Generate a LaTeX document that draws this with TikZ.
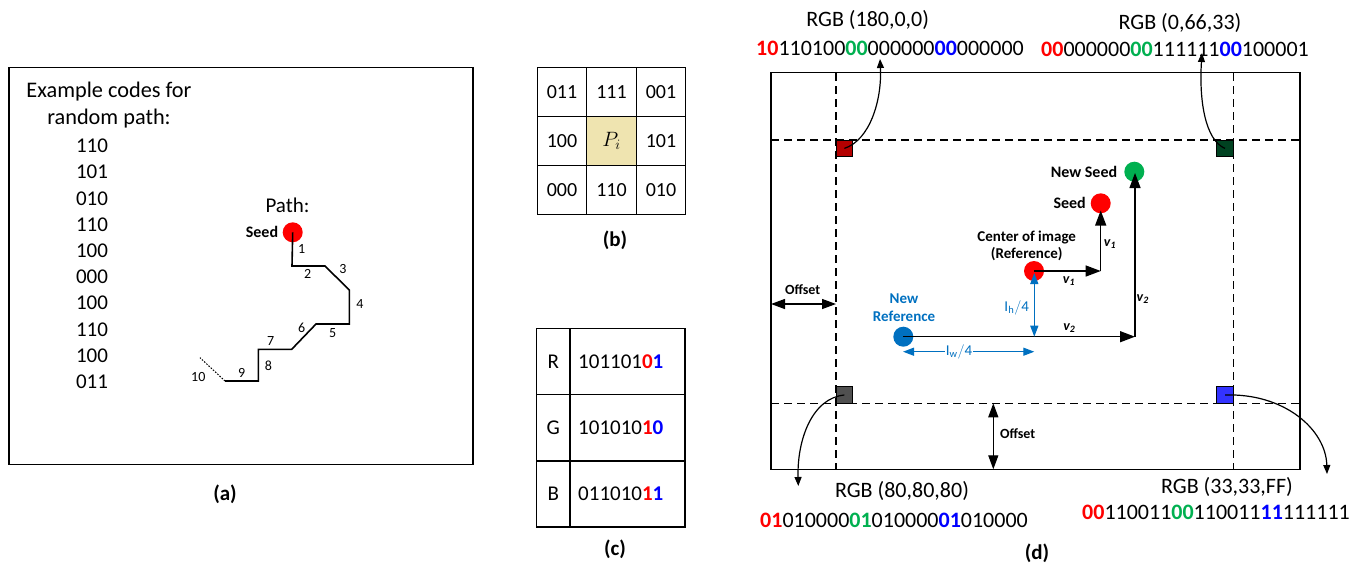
\documentclass[tikz,border=0pt]{standalone}
\usepackage{fontspec}
\setmainfont{Carlito}
\usetikzlibrary{arrows.meta}
\definecolor{cred}{HTML}{FF0000}
\definecolor{cgreen}{HTML}{00B050}
\definecolor{cblue}{HTML}{0000FF}
\definecolor{cref}{HTML}{0070C0}
\definecolor{tan}{HTML}{EFE4B0}
\definecolor{sqred}{HTML}{B40000}
\definecolor{sqgreen}{HTML}{004221}
\definecolor{sqgray}{HTML}{505050}
\definecolor{sqblue}{HTML}{3333FF}
\newcommand{\rb}[1]{\textcolor{cred}{\bfseries #1}}
\newcommand{\gb}[1]{\textcolor{cgreen}{\bfseries #1}}
\newcommand{\bb}[1]{\textcolor{cblue}{\bfseries #1}}
\begin{document}
\begin{tikzpicture}[x=1pt,y=-1pt,
  txt/.style={inner sep=0pt,font=\fontsize{21}{25}\selectfont},
  bigtxt/.style={inner sep=0pt,font=\fontsize{22}{26}\selectfont},
  numtxt/.style={inner sep=0pt,font=\fontsize{14}{16}\selectfont},
  boldlbl/.style={inner sep=0pt,font=\fontsize{15}{17.7}\selectfont\bfseries,align=center},
  seedlbl/.style={inner sep=0pt,font=\fontsize{16}{18}\selectfont\bfseries},
  caplbl/.style={inner sep=0pt,font=\fontsize{21}{25}\selectfont\bfseries},
  vlab/.style={inner sep=0pt,font=\fontsize{14}{16}\selectfont\bfseries\itshape},
  dot/.style={circle,inner sep=0pt,minimum size=20pt},
  cell/.style={draw,line width=1.4pt,minimum width=49.5pt,minimum height=49pt,inner sep=0pt,font=\fontsize{20}{24}\selectfont},
  sq/.style={draw,line width=0.9pt,minimum size=16.7pt,inner sep=0pt},
  dashline/.style={line width=1.3pt,dash pattern=on 8pt off 5pt},
  pathline/.style={line width=1.6pt},
  bigarrow/.style={line width=1.3pt,-{Triangle[length=15pt,width=11pt]}},
  dblarrow/.style={line width=1.3pt,{Triangle[length=14pt,width=10pt]}-{Triangle[length=14pt,width=10pt]}},
  bluearrow/.style={line width=1.3pt,cref,{Triangle[length=11pt,width=8pt]}-{Triangle[length=11pt,width=8pt]}},
  curvearrow/.style={line width=1.2pt,-{Triangle[length=9pt,width=7pt]}}
]
\useasboundingbox (0,0) rectangle (1365,566);

% ---------------- panel (a)
\node[draw,line width=1.6pt,minimum width=464pt,minimum height=397pt,inner sep=0pt] (boxa) at (241,266) {};
\node[inner sep=0pt,font=\fontsize{22.3}{27}\selectfont,align=center] (title) at (109,105.5) {Example codes for\\random path:};
\foreach \c [count=\i] in {110,101,010,110,100,000,100,110,100,011}
  \node[txt] (code\i) at (92,{146+(\i-1)*26.2}) {\c};
\node[txt] (pathlbl) at (287.5,205) {Path:};
\node[dot,fill=cred] (seedA) at (292.7,232.3) {};
\node[seedlbl] (seedAl) at (262,232) {Seed};
\coordinate (p1) at (292,266);
\coordinate (p2) at (325,266);
\coordinate (p3) at (349.3,290);
\coordinate (p4) at (349.3,324);
\coordinate (p5) at (316,324);
\coordinate (p6) at (291.7,349.3);
\coordinate (p7) at (258.3,349.3);
\coordinate (p8) at (258.3,381);
\coordinate (p9) at (225,381);
\coordinate (p10) at (200,357.7);
\draw[pathline] (seedA.center) -- (p1) -- (p2) -- (p3) -- (p4) -- (p5) -- (p6) -- (p7) -- (p8) -- (p9);
\draw[line width=1pt,dash pattern=on 1.5pt off 1.5pt] (p9) -- (p10);
\node[numtxt] (n1) at (301.7,249) {1};
\node[numtxt] (n2) at (307.7,274) {2};
\node[numtxt] (n3) at (343,269) {3};
\node[numtxt] (n4) at (360,304) {4};
\node[numtxt] (n5) at (332.7,332.7) {5};
\node[numtxt] (n6) at (301.7,328) {6};
\node[numtxt] (n7) at (270.7,340.7) {7};
\node[numtxt] (n8) at (268.3,365.7) {8};
\node[numtxt] (n9) at (241.7,373) {9};
\node[numtxt] (n10) at (198.3,376.7) {10};
\node[caplbl] (capa) at (225,494) {(a)};

% ---------------- panel (b)
\node[cell] (b11) at (562,92) {011};
\node[cell] (b12) at (611.5,92) {111};
\node[cell] (b13) at (661,92) {001};
\node[cell] (b21) at (562,141) {100};
\node[cell,fill=tan] (b22) at (611.5,141) {$P_i$};
\node[cell] (b23) at (661,141) {101};
\node[cell] (b31) at (562,190) {000};
\node[cell] (b32) at (611.5,190) {110};
\node[cell] (b33) at (661,190) {010};
\node[caplbl] (capb) at (615,240) {(b)};

% ---------------- panel (c)
\foreach \l/\v [count=\i] in {R/101101\rb{0}\bb{1},G/101010\rb{1}\bb{0},B/011010\rb{1}\bb{1}}{
  \node[draw,line width=1.4pt,minimum width=33.3pt,minimum height=66.3pt,inner sep=0pt] (cl\i) at (553.3,{361.4+(\i-1)*66.3}) {};
  \node[draw,line width=1.4pt,minimum width=115pt,minimum height=66.3pt,inner sep=0pt] (cr\i) at (627.5,{361.4+(\i-1)*66.3}) {};
  \node[txt] (cll\i) at (cl\i.center) {\l};
  \node[txt,anchor=west] (crl\i) at (578,{361.4+(\i-1)*66.3}) {\v};
}
\node[caplbl] (capc) at (615,549) {(c)};

% ---------------- panel (d)
\node[draw,line width=1.4pt,minimum width=529pt,minimum height=396.6pt,inner sep=0pt] (boxd) at (1035.5,271) {};
\draw[dashline] (771,140) -- (1300,140);
\draw[dashline] (771,403.3) -- (1300,403.3);
\draw[dashline] (836,73) -- (836,469.3);
\draw[dashline] (1233.3,73) -- (1233.3,469.3);
\node[sq,fill=sqred] (sqR) at (844.4,148.4) {};
\node[sq,fill=sqgreen] (sqG) at (1225,148.4) {};
\node[sq,fill=sqgray] (sqK) at (844.4,395) {};
\node[sq,fill=sqblue] (sqB) at (1225,395) {};

\node[bigtxt] (rgbTL) at (867.7,20) {RGB (180,0,0)};
\node[bigtxt] (binTL) at (890,48) {\rb{10}110100\gb{00}000000\bb{00}000000};
\node[bigtxt] (rgbTR) at (1180,23) {RGB (0,66,33)};
\node[bigtxt] (binTR) at (1175,49) {\rb{00}000000\gb{00}111111\bb{00}100001};
\node[bigtxt] (rgbBL) at (902,491) {RGB (80,80,80)};
\node[bigtxt] (binBL) at (894,520) {\rb{01}010000\gb{01}010000\bb{01}010000};
\node[bigtxt] (rgbBR) at (1227,487) {RGB (33,33,FF)};
\node[bigtxt] (binBR) at (1216,512) {\rb{00}110011\gb{00}110011\bb{11}111111};
\node[caplbl] (capd) at (1037,553) {(d)};

\coordinate (tTL) at (880,59);
\coordinate (tTR) at (1202,53);
\coordinate (tBL) at (798.3,486);
\coordinate (tBR) at (1327,474);
\draw[curvearrow] (sqR.center) .. controls (870,140) and (882,100) .. (tTL);
\draw[curvearrow] (sqG.center) .. controls (1205,140) and (1199,100) .. (tTR);
\draw[curvearrow] (sqK.center) .. controls (812,398) and (797,440) .. (tBL);
\draw[curvearrow] (sqB.center) .. controls (1285,393) and (1326,430) .. (tBR);

% offsets
\coordinate (offL1) at (771,304);
\coordinate (offL2) at (836,304);
\draw[dblarrow] (offL1) -- (offL2);
\node[boldlbl,font=\fontsize{14}{16}\selectfont\bfseries] (offLl) at (802.7,290) {Offset};
\coordinate (offB1) at (993.3,403.3);
\coordinate (offB2) at (993.3,469.3);
\draw[dblarrow] (offB1) -- (offB2);
\node[boldlbl,font=\fontsize{14}{16}\selectfont\bfseries] (offBl) at (1017.7,434) {Offset};

% seeds and references
\node[dot,fill=cgreen] (nseed) at (1134.3,171.7) {};
\node[seedlbl] (nseedl) at (1084,171.7) {New Seed};
\node[dot,fill=cred] (seedD) at (1100.7,203.3) {};
\node[seedlbl] (seedDl) at (1069.7,203.3) {Seed};
\node[dot,fill=cred] (cref) at (1034,271) {};
\node[boldlbl] (crefl) at (1026.7,246) {Center of image\\(Reference)};
\node[dot,fill=cref] (nref) at (903.3,336.7) {};
\node[boldlbl,text=cref] (nrefl) at (904,308) {New\\Reference};

\coordinate (v1c) at (1100.7,271);
\coordinate (v2c) at (1135,336.7);
\coordinate (v1t) at (1100.7,210.5);
\coordinate (v2t) at (1135,173);
\draw[bigarrow] (cref.center) -- (v1c);
\draw[bigarrow] (v1c) -- (v1t);
\draw[bigarrow] (nref.center) -- (v2c);
\draw[bigarrow] (v2c) -- (v2t);
\node[vlab] (v1a) at (1069,281) {v\textsubscript{1}};
\node[vlab] (v1b) at (1110,244) {v\textsubscript{1}};
\node[vlab] (v2a) at (1069.3,327.7) {v\textsubscript{2}};
\node[vlab] (v2b) at (1142.7,299.3) {v\textsubscript{2}};

\coordinate (ih1) at (1034.3,273);
\coordinate (ih2) at (1034.3,336.7);
\draw[bluearrow] (ih1) -- (ih2);
\node[inner sep=0pt,text=cref,font=\fontsize{15}{18}\selectfont] (ihl) at (1016.7,307.7) {$\mathrm{I_h/4}$};
\coordinate (iw1) at (903,351.7);
\coordinate (iw2) at (1034.3,351.7);
\draw[bluearrow] (iw1) -- (iw2);
\node[inner sep=1pt,fill=white,text=cref,font=\fontsize{15}{18}\selectfont] (iwl) at (959,352) {$\mathrm{I_w/4}$};
\end{tikzpicture}
\end{document}
